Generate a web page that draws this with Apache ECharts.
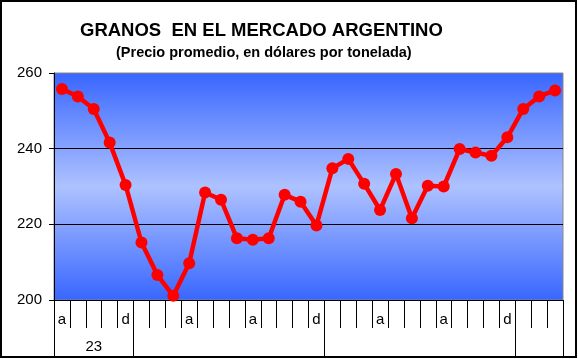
<!DOCTYPE html>
<html><head><meta charset="utf-8">
<script src="https://cdn.jsdelivr.net/npm/echarts@6/dist/echarts.min.js"></script>
<style>html,body{margin:0;padding:0;background:#fff}#c{width:578px;height:359px}</style>
</head><body><div id="c"></div>
<script>
var weekLabels = ['a','','','','d','','','','a','','','','a','','','','d','','','','a','','','','a','','','','d','','',''];
var yearLabels = ['','','23','','','','','','','','','','','','','','','','','','','','','','','','','','','','',''];
var yearStarts = [0,5,17,29];
var prices = [255.8,253.8,250.5,241.6,230.4,215.2,206.6,201.1,209.7,228.4,226.5,216.3,215.9,216.3,227.8,226.0,219.7,234.8,237.3,230.7,223.8,233.3,221.6,230.2,230.0,239.9,239.0,238.1,243.0,250.5,253.8,255.4];
var yTicks = {min:200, max:260, step:20};

var chart = echarts.init(document.getElementById('c'));
chart.setOption({
  animation:false,
  backgroundColor:'#fff',
  title:[
    {text:'GRANOS  EN EL MERCADO ARGENTINO', left:80, top:21, padding:0,
     textStyle:{fontFamily:'Liberation Sans, Arial', fontWeight:'bold', fontSize:18.5, color:'#000'}},
    {text:'(Precio promedio, en dólares por tonelada)', left:116, top:45, padding:0,
     textStyle:{fontFamily:'Liberation Sans, Arial', fontWeight:'bold', fontSize:14.5, color:'#000'}}
  ],
  graphic:[{type:'rect', shape:{x:1,y:1,width:575,height:356}, style:{fill:'none', stroke:'#000', lineWidth:2}, z:100}],
  grid:{left:54, right:15, top:73, bottom:59, show:true, borderColor:'#888', borderWidth:1,
    backgroundColor:{type:'linear',x:0,y:0,x2:0,y2:1,colorStops:[
      {offset:0,color:'#3866ff'},{offset:0.5,color:'#aec2ff'},{offset:1,color:'#3866ff'}]}},
  xAxis:[
    {type:'category', data:weekLabels, boundaryGap:true, position:'bottom',
     axisLine:{show:true, lineStyle:{color:'#000',width:1}},
     axisTick:{show:true, interval:0, length:28, lineStyle:{color:'#000', width:1}},
     axisLabel:{interval:0, margin:12, fontFamily:'Liberation Sans, Arial', fontSize:15, color:'#000'}},
    {type:'category', data:yearLabels, boundaryGap:true, position:'bottom',
     axisLine:{show:false},
     axisTick:{show:true, length:56, lineStyle:{color:'#000', width:1}, interval:function(i){return yearStarts.indexOf(i)>=0;}},
     axisLabel:{interval:0, margin:39, fontFamily:'Liberation Sans, Arial', fontSize:15, color:'#000'}}
  ],
  yAxis:{type:'value', min:yTicks.min, max:yTicks.max, interval:yTicks.step,
    axisLine:{show:true, lineStyle:{color:'#000'}},
    axisTick:{show:true, length:5, lineStyle:{color:'#000'}},
    axisLabel:{margin:12, fontFamily:'Liberation Sans, Arial', fontSize:15, color:'#000'},
    splitLine:{show:true, showMinLine:false, showMaxLine:false, lineStyle:{color:'#000', width:1}}},
  series:[{type:'line', data:prices, xAxisIndex:0, symbol:'circle', symbolSize:12,
    lineStyle:{color:'#ff0000', width:4.5}, itemStyle:{color:'#ff0000'}, z:5}]
});
</script></body></html>
